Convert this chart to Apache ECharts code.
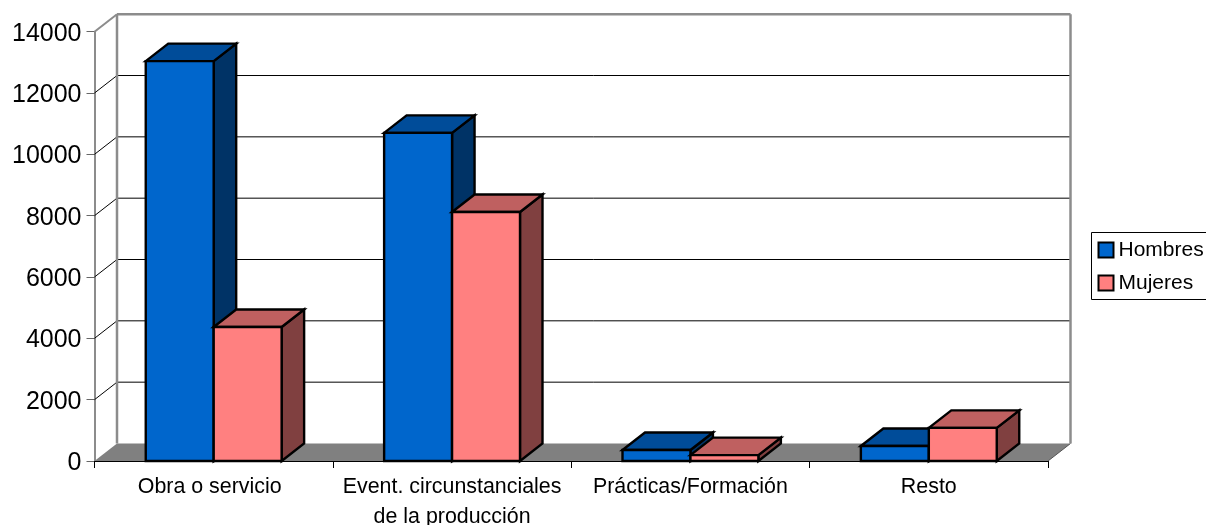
<!DOCTYPE html>
<html>
<head>
<meta charset="utf-8">
<style>html,body{margin:0;padding:0;background:#fff}#c{width:1206px;height:525px}</style>
<script src="https://cdn.jsdelivr.net/npm/echarts@6/dist/echarts.min.js"></script>
</head>
<body>
<div id="c"></div>
<script>
var categories = ['Obra o servicio', 'Event. circunstanciales\nde la producción', 'Prácticas/Formación', 'Resto'];
var hombres = [13040, 10700, 360, 490];
var mujeres = [4370, 8120, 190, 1080];
var yTicks = [0, 2000, 4000, 6000, 8000, 10000, 12000, 14000];

var DX = 22.5, DY = -17.5, BAR = 0.285, FONT = 'Liberation Sans, Arial, sans-serif';
var chart = echarts.init(document.getElementById('c'), null, {renderer: 'canvas'});

function poly(pts, fill, stroke, lw) {
  return {type: 'polygon', shape: {points: pts},
    style: {fill: fill, stroke: stroke || null, lineWidth: lw || 0, lineJoin: 'miter'}};
}
function seg(a, b, stroke, lw) {
  return {type: 'line', shape: {x1: a[0], y1: a[1], x2: b[0], y2: b[1]},
    style: {stroke: stroke, lineWidth: lw, fill: null}};
}
function wallRender(params, api) {
  var v = api.value(0), band = api.size([1, 0])[0];
  var c = api.coord([0, v]), L = c[0] - band / 2, R = L + band * categories.length, y = c[1];
  var items = [];
  if (v === 0) {
    items.push(poly([[L, y], [R, y], [R + DX, y + DY], [L + DX, y + DY]], '#808080'));
    items.push(seg([R, y], [R + DX, y + DY], '#555555', 1));
  } else if (v === yTicks[yTicks.length - 1]) {
    var y0 = api.coord([0, 0])[1];
    items.push(seg([L, y], [L + DX, y + DY], '#8c8c8c', 2));
    items.push(seg([L + DX, y + DY], [L + DX, y0 + DY], '#8c8c8c', 2.5));
    items.push(seg([L + DX, y + DY], [R + DX, y + DY], '#8c8c8c', 2.5));
    items.push(seg([R + DX, y + DY], [R + DX, y0 + DY], '#8c8c8c', 2.5));
  } else {
    items.push(seg([L, y], [L + DX, y + DY], '#000', 1));
    items.push(seg([L + DX, y + DY], [R + DX, y + DY], '#000', 1));
  }
  return {type: 'group', children: items};
}
function makeBar(side, front, top, dark) {
  return function (params, api) {
    var i = api.value(0), band = api.size([1, 0])[0], w = band * BAR;
    var t = api.coord([i, api.value(1)]), b = api.coord([i, 0]);
    var x0 = side < 0 ? t[0] - w : t[0], x1 = x0 + w, yt = t[1], yb = b[1];
    return {type: 'group', children: [
      poly([[x1, yb], [x1 + DX, yb + DY], [x1 + DX, yt + DY], [x1, yt]], dark, '#000', 2.4),
      poly([[x0, yt], [x0 + DX, yt + DY], [x1 + DX, yt + DY], [x1, yt]], top, '#000', 2.4),
      poly([[x0, yt], [x1, yt], [x1, yb], [x0, yb]], front, '#000', 2.4)
    ]};
  };
}
function pairs(arr) { return arr.map(function (v, i) { return [i, v]; }); }

chart.setOption({
  animation: false,
  backgroundColor: '#fff',
  textStyle: {fontFamily: FONT},
  grid: {left: 94.5, right: 158, top: 31.7, bottom: 64, containLabel: false, outerBoundsMode: 'none'},
  legend: {
    orient: 'vertical', left: 1091.5, top: 232.5,
    padding: [7, 5, 6, 6], itemGap: 12, itemWidth: 15, itemHeight: 15,
    borderColor: '#000', borderWidth: 1, icon: 'rect', selectedMode: false,
    textStyle: {fontSize: 21, color: '#000', fontFamily: FONT},
    data: ['Hombres', 'Mujeres']
  },
  xAxis: {
    type: 'category',
    data: categories.map(function (c, i) {
      return i === 0 ? {value: c, textStyle: {padding: [0, 8, 0, 0]}} : c;
    }),
    boundaryGap: true,
    axisLine: {lineStyle: {color: '#000', width: 1}},
    axisTick: {show: true, alignWithLabel: false, length: 7, lineStyle: {color: '#000'}},
    axisLabel: {fontSize: 21.4, color: '#000', lineHeight: 30, margin: 11, fontFamily: FONT, interval: 0}
  },
  yAxis: {
    type: 'value', min: 0, max: 14000, interval: 2000,
    splitLine: {show: false},
    axisLine: {show: true, lineStyle: {color: '#666', width: 1.5}},
    axisTick: {show: true, length: 8, lineStyle: {color: '#666'}},
    axisLabel: {fontSize: 25, color: '#000', margin: 13, fontFamily: FONT, verticalAlign: 'top', lineHeight: 4,
      formatter: function (v) { return String(v); }}
  },
  series: [
    {type: 'custom', name: 'wall', z: 1, silent: true, data: yTicks.map(function (v) { return [v]; }),
     encode: {x: -1, y: -1}, renderItem: wallRender},
    {type: 'custom', name: 'Hombres', z: 3, data: pairs(hombres), encode: {x: 0, y: 1},
     itemStyle: {color: '#0066CC', borderColor: '#000', borderWidth: 2.4},
     renderItem: makeBar(-1, '#0066CC', '#004C99', '#003366')},
    {type: 'custom', name: 'Mujeres', z: 4, data: pairs(mujeres), encode: {x: 0, y: 1},
     itemStyle: {color: '#FF8080', borderColor: '#000', borderWidth: 2.4},
     renderItem: makeBar(1, '#FF8080', '#BF6060', '#804040')}
  ]
});
</script>
</body>
</html>
